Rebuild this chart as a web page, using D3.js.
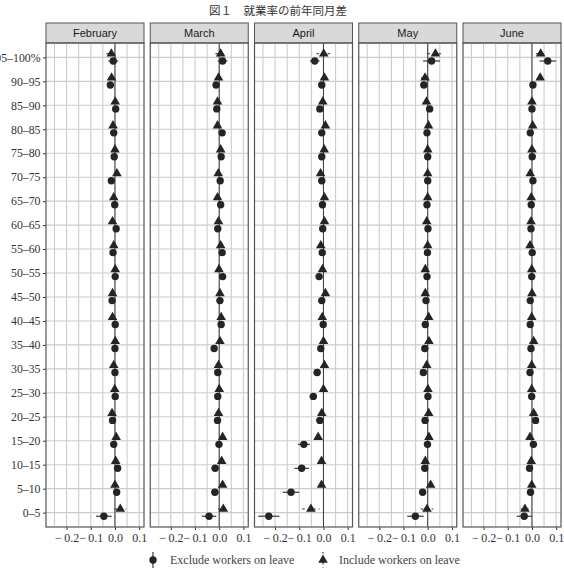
<!DOCTYPE html>
<html>
<head>
<meta charset="utf-8">
<script src="https://cdn.jsdelivr.net/npm/d3@7"></script>
<style>
  body { margin: 0; background: #fff; }
  svg { display: block; }
</style>
</head>
<body>
<div id="chart"></div>
<script>
// panels, categories (bottom to top) and tick labels
var months = ["February", "March", "April", "May", "June"];
var categories = ["0–5", "5–10", "10–15", "15–20", "20–25", "25–30", "30–35", "35–40", "40–45", "45–50",
  "50–55", "55–60", "60–65", "65–70", "70–75", "75–80", "80–85", "85–90", "90–95", "95–100%"];
var xTicks = [-0.2, -0.1, 0.0, 0.1];
var xTickLabels = ["−\u20090.2", "−\u20090.1", "0.0", "0.1"];
var seriesNames = ["Exclude workers on leave", "Include workers on leave"];

// point estimates, one value per category (0-5 first)
var excludeFeb = [-0.046, 0.007, 0.011, -0.005, -0.010, 0.001, 0.000, 0.000, 0.001, -0.012,
  0.001, -0.008, 0.005, -0.001, -0.015, -0.003, -0.005, 0.003, -0.019, -0.007];
var includeFeb = [0.022, 0.000, 0.003, 0.005, -0.012, -0.001, -0.005, 0.001, -0.010, -0.010,
  0.001, -0.005, -0.010, -0.005, 0.008, 0.000, -0.008, 0.001, -0.014, -0.015];
var excludeMar = [-0.042, -0.018, -0.017, -0.001, -0.007, -0.006, -0.006, -0.021, 0.008, 0.003,
  0.014, 0.012, -0.006, 0.006, 0.004, 0.008, 0.012, -0.010, -0.013, 0.014];
var includeMar = [0.017, 0.014, 0.010, 0.014, -0.003, 0.000, -0.003, 0.003, 0.008, 0.003,
  -0.001, 0.006, -0.003, -0.007, -0.004, 0.006, -0.007, -0.007, -0.003, 0.006];
var excludeApr = [-0.226, -0.134, -0.090, -0.081, -0.015, -0.042, -0.026, -0.011, -0.001, -0.007,
  -0.018, -0.005, -0.003, -0.004, -0.007, -0.007, -0.007, -0.015, -0.007, -0.036];
var includeApr = [-0.052, -0.008, -0.008, -0.022, -0.007, 0.000, 0.004, 0.000, -0.005, 0.008,
  -0.004, -0.011, 0.004, 0.004, -0.012, 0.003, 0.008, -0.003, 0.004, 0.001];
var excludeMay = [-0.051, -0.021, -0.012, -0.001, -0.011, 0.001, -0.018, -0.012, -0.010, -0.007,
  -0.003, -0.001, 0.001, -0.003, 0.000, 0.000, -0.003, 0.008, -0.016, 0.016];
var includeMay = [-0.003, 0.012, -0.010, 0.005, 0.004, 0.001, -0.004, 0.005, 0.004, -0.010,
  -0.010, 0.000, -0.004, 0.000, 0.000, 0.000, 0.003, -0.005, -0.011, 0.032];
var excludeJun = [-0.032, -0.006, -0.010, 0.006, 0.015, -0.001, -0.008, -0.004, -0.007, -0.007,
  -0.001, 0.001, -0.004, -0.003, 0.004, 0.001, -0.007, 0.000, 0.004, 0.065];
var includeJun = [-0.029, -0.001, -0.003, -0.008, 0.007, -0.001, -0.001, 0.007, -0.001, 0.000,
  -0.001, -0.008, -0.004, -0.003, -0.007, 0.000, 0.003, 0.000, 0.034, 0.036];

// confidence interval half widths
var ciExcludeFeb = [0.032, 0.012, 0.014, 0.009, 0.009, 0.009, 0.009, 0.009, 0.009, 0.009,
  0.009, 0.009, 0.009, 0.009, 0.009, 0.009, 0.009, 0.009, 0.010, 0.020];
var ciIncludeFeb = [0.024, 0.008, 0.008, 0.008, 0.008, 0.008, 0.008, 0.008, 0.008, 0.008,
  0.008, 0.008, 0.008, 0.008, 0.008, 0.008, 0.008, 0.008, 0.012, 0.020];
var ciExcludeMar = [0.030, 0.015, 0.014, 0.009, 0.009, 0.009, 0.009, 0.009, 0.009, 0.009,
  0.009, 0.009, 0.009, 0.009, 0.009, 0.009, 0.009, 0.009, 0.010, 0.020];
var ciIncludeMar = [0.022, 0.008, 0.008, 0.008, 0.008, 0.008, 0.008, 0.008, 0.008, 0.008,
  0.008, 0.008, 0.008, 0.008, 0.008, 0.008, 0.008, 0.008, 0.010, 0.022];
var ciExcludeApr = [0.044, 0.034, 0.030, 0.025, 0.015, 0.015, 0.015, 0.010, 0.010, 0.010,
  0.010, 0.010, 0.010, 0.010, 0.010, 0.010, 0.010, 0.010, 0.010, 0.020];
var ciIncludeApr = [0.036, 0.010, 0.010, 0.010, 0.010, 0.010, 0.010, 0.010, 0.010, 0.010,
  0.010, 0.010, 0.010, 0.010, 0.010, 0.010, 0.010, 0.010, 0.012, 0.030];
var ciExcludeMay = [0.034, 0.012, 0.010, 0.010, 0.010, 0.010, 0.010, 0.010, 0.010, 0.010,
  0.010, 0.010, 0.010, 0.010, 0.010, 0.010, 0.010, 0.010, 0.015, 0.035];
var ciIncludeMay = [0.026, 0.009, 0.009, 0.009, 0.009, 0.009, 0.009, 0.009, 0.009, 0.009,
  0.009, 0.009, 0.009, 0.009, 0.009, 0.009, 0.009, 0.009, 0.016, 0.033];
var ciExcludeJun = [0.031, 0.009, 0.009, 0.009, 0.009, 0.009, 0.009, 0.009, 0.009, 0.009,
  0.009, 0.009, 0.009, 0.009, 0.009, 0.009, 0.009, 0.009, 0.010, 0.034];
var ciIncludeJun = [0.018, 0.008, 0.008, 0.008, 0.008, 0.008, 0.008, 0.008, 0.008, 0.008,
  0.008, 0.008, 0.008, 0.008, 0.008, 0.008, 0.008, 0.008, 0.012, 0.020];

var exclude = [excludeFeb, excludeMar, excludeApr, excludeMay, excludeJun];
var include = [includeFeb, includeMar, includeApr, includeMay, includeJun];
var ciExclude = [ciExcludeFeb, ciExcludeMar, ciExcludeApr, ciExcludeMay, ciExcludeJun];
var ciInclude = [ciIncludeFeb, ciIncludeMar, ciIncludeApr, ciIncludeMay, ciIncludeJun];

var W = 564, H = 570;
var plotLeft = 46, plotRight = 561, plotTop = 43, plotBottom = 527, stripH = 20, gap = 6.25;
var panelW = (plotRight - plotLeft - gap * (months.length - 1)) / months.length;
var ink = "#242424", dodge = 3.6, triSize = 40, dotR = 3.7;
var serif = "'Liberation Serif', 'DejaVu Serif', serif";

var svg = d3.select("#chart").append("svg").attr("width", W).attr("height", H);

// title
svg.append("text").attr("x", 278).attr("y", 15).attr("text-anchor", "middle")
  .attr("font-family", "'Noto Sans CJK JP', sans-serif").attr("font-size", 11.5).attr("fill", "#333")
  .text("図１　就業率の前年同月差");

var x = d3.scaleLinear().domain([-0.285, 0.12]).range([0, panelW]);
var y = d3.scalePoint().domain(categories).range([plotBottom, plotTop]).padding(0.6);
var gridX = d3.range(-0.25, 0.1001, 0.05);

// y axis labels on the left of the first panel
var yAxis = svg.append("g").attr("transform", "translate(" + plotLeft + ",0)")
  .call(d3.axisLeft(y).tickSize(3).tickPadding(2.5));
yAxis.select(".domain").remove();
yAxis.selectAll("line").attr("stroke", "#333");
yAxis.selectAll("text").attr("font-family", serif).attr("font-size", 11.8).attr("fill", "#333");

months.forEach(function (m, i) {
  var g = svg.append("g").attr("transform", "translate(" + (plotLeft + i * (panelW + gap)) + ",0)");

  // strip
  g.append("rect").attr("x", 0).attr("y", plotTop - stripH).attr("width", panelW).attr("height", stripH)
    .attr("fill", "#d9d9d9").attr("stroke", "#555").attr("stroke-width", 1);
  g.append("text").attr("x", panelW / 2).attr("y", plotTop - stripH / 2 + 4).attr("text-anchor", "middle")
    .attr("font-family", "'Liberation Sans', Arial, sans-serif").attr("font-size", 11).attr("fill", "#1a1a1a")
    .text(m);

  // grid
  g.selectAll(".gx").data(gridX).enter().append("line")
    .attr("x1", function (d) { return x(d); }).attr("x2", function (d) { return x(d); })
    .attr("y1", plotTop).attr("y2", plotBottom).attr("stroke", "#cccccc").attr("stroke-width", 1.1);
  g.selectAll(".gy").data(categories).enter().append("line")
    .attr("x1", 0).attr("x2", panelW)
    .attr("y1", function (d) { return y(d); }).attr("y2", function (d) { return y(d); })
    .attr("stroke", "#cccccc").attr("stroke-width", 1.1);

  // zero line
  g.append("line").attr("x1", x(0)).attr("x2", x(0)).attr("y1", plotTop).attr("y2", plotBottom)
    .attr("stroke", "#3a3a3a").attr("stroke-width", 1);

  // x axis
  var xa = g.append("g").attr("transform", "translate(0," + plotBottom + ")")
    .call(d3.axisBottom(x).tickValues(xTicks).tickSize(3).tickPadding(3)
      .tickFormat(function (d, j) { return xTickLabels[j]; }));
  xa.select(".domain").remove();
  xa.selectAll("line").attr("stroke", "#333");
  xa.selectAll("text").attr("font-family", serif).attr("font-size", 12).attr("fill", "#333");

  // include workers on leave: triangles, dashed intervals
  var inc = categories.map(function (c, j) { return { c: c, v: include[i][j], e: ciInclude[i][j] }; });
  g.selectAll(".ie").data(inc).enter().append("line")
    .attr("x1", function (d) { return x(d.v - d.e); }).attr("x2", function (d) { return x(d.v + d.e); })
    .attr("y1", function (d) { return y(d.c) - dodge; }).attr("y2", function (d) { return y(d.c) - dodge; })
    .attr("stroke", ink).attr("stroke-width", 1.1).attr("stroke-dasharray", "2.5,3");
  g.selectAll(".ip").data(inc).enter().append("path")
    .attr("d", d3.symbol().type(d3.symbolTriangle).size(triSize))
    .attr("transform", function (d) { return "translate(" + x(d.v) + "," + (y(d.c) - dodge) + ")"; })
    .attr("fill", ink);

  // exclude workers on leave: circles, solid intervals
  var exc = categories.map(function (c, j) { return { c: c, v: exclude[i][j], e: ciExclude[i][j] }; });
  g.selectAll(".ee").data(exc).enter().append("line")
    .attr("x1", function (d) { return x(d.v - d.e); }).attr("x2", function (d) { return x(d.v + d.e); })
    .attr("y1", function (d) { return y(d.c) + dodge; }).attr("y2", function (d) { return y(d.c) + dodge; })
    .attr("stroke", ink).attr("stroke-width", 1.1);
  g.selectAll(".ep").data(exc).enter().append("circle")
    .attr("cx", function (d) { return x(d.v); }).attr("cy", function (d) { return y(d.c) + dodge; })
    .attr("r", dotR).attr("fill", ink);

  // panel border
  g.append("rect").attr("x", 0).attr("y", plotTop).attr("width", panelW).attr("height", plotBottom - plotTop)
    .attr("fill", "none").attr("stroke", "#555").attr("stroke-width", 1.2);
});

// legend
var legend = svg.append("g");
var keyX = [153, 323], textX = [170, 339], ly = 560;
legend.append("line").attr("x1", keyX[0]).attr("x2", keyX[0]).attr("y1", ly - 8).attr("y2", ly + 8)
  .attr("stroke", ink).attr("stroke-width", 1.1);
legend.append("circle").attr("cx", keyX[0]).attr("cy", ly).attr("r", dotR).attr("fill", ink);
legend.append("line").attr("x1", keyX[1]).attr("x2", keyX[1]).attr("y1", ly - 8).attr("y2", ly + 8)
  .attr("stroke", ink).attr("stroke-width", 1.1).attr("stroke-dasharray", "2.5,3").attr("stroke-dashoffset", 1);
legend.append("path").attr("d", d3.symbol().type(d3.symbolTriangle).size(triSize))
  .attr("transform", "translate(" + keyX[1] + "," + ly + ")").attr("fill", ink);
seriesNames.forEach(function (s, k) {
  legend.append("text").attr("x", textX[k]).attr("y", ly + 4)
    .attr("font-family", serif).attr("font-size", 12).attr("fill", "#444").text(s);
});
</script>
</body>
</html>
